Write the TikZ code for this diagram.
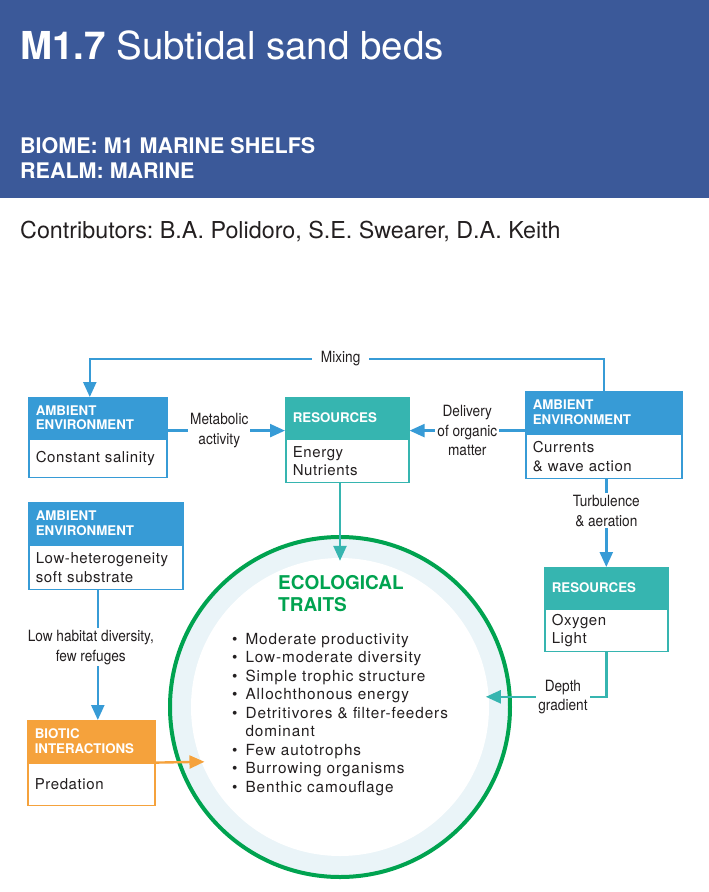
\documentclass[tikz,border=0pt]{standalone}
\usepackage{fontspec}
\setmainfont{TeX Gyre Heros}
\newfontfamily\condfont[FakeStretch=0.88]{TeX Gyre Heros}
\newfontfamily\bodyfont[LetterSpace=4]{TeX Gyre Heros}
\newfontfamily\traitfont[LetterSpace=6]{TeX Gyre Heros}
\usetikzlibrary{arrows.meta,positioning}

\definecolor{hdrblue}{RGB}{59,89,153}
\definecolor{aeblue}{RGB}{55,155,214}
\definecolor{resteal}{RGB}{54,181,176}
\definecolor{biorange}{RGB}{245,162,60}
\definecolor{ecogreen}{RGB}{0,163,80}
\definecolor{ringblue}{RGB}{234,244,248}
\definecolor{txt}{RGB}{35,31,32}

\tikzset{
  hdr/.style={fill=#1, draw=#1, line width=1.6pt, text=white,
    font=\fontsize{13.3}{14.5}\selectfont\bfseries, align=left,
    anchor=north west, inner xsep=7pt, inner ysep=0pt},
  bodybox/.style={fill=white, draw=#1, line width=1.6pt, text=txt,
    font=\bodyfont\fontsize{15}{18.5}\selectfont, align=left,
    anchor=north west, inner xsep=7pt, inner ysep=0pt},
  flow/.style={draw=#1, line width=2.4pt, -{Triangle[length=15pt,width=13pt]}},
  lbl/.style={fill=white, text=txt, font=\condfont\fontsize{15.5}{19.5}\selectfont,
    align=center, inner sep=2pt},
}

\begin{document}
\frenchspacing
\begin{tikzpicture}[x=1pt,y=-1pt]
  \useasboundingbox (0,0) rectangle (709,892);

  % ---------- header band ----------
  \fill[hdrblue] (0,0) rectangle (709,198);
  \node[anchor=base west, inner sep=0, text=white, font=\fontsize{38.5}{40}\selectfont]
    (title) at (20,59) {\textbf{M1.7} Subtidal sand beds};
  \node[anchor=base west, inner sep=0, text=white, font=\fontsize{21.5}{25}\selectfont\bfseries,
    align=left] (biome) at (20,178) {BIOME: M1 MARINE SHELFS\\REALM: MARINE};
  \node[anchor=base west, inner sep=0, text=txt, font=\fontsize{23.3}{25}\selectfont]
    (contrib) at (20,238) {Contributors: B.A. Polidoro, S.E. Swearer, D.A. Keith};

  % ---------- boxes: header strip + body ----------
  \node[hdr=aeblue, text width=124pt, minimum height=40pt] (ae1h) at (28,397) {AMBIENT\\ENVIRONMENT};
  \node[bodybox=aeblue, text width=124pt, minimum height=38pt] (ae1) at (ae1h.south west) {Constant salinity};

  \node[hdr=resteal, text width=109pt, minimum height=40pt] (res1h) at (285,397) {RESOURCES};
  \node[bodybox=resteal, text width=109pt, minimum height=43pt] (res1) at (res1h.south west) {Energy\\Nutrients};

  \node[hdr=aeblue, text width=142pt, minimum height=41pt] (ae2h) at (525,391) {AMBIENT\\ENVIRONMENT};
  \node[bodybox=aeblue, text width=142pt, minimum height=44pt] (ae2) at (ae2h.south west) {Currents\\\& wave action};

  \node[hdr=aeblue, text width=140pt, minimum height=41pt] (ae3h) at (28,502) {AMBIENT\\ENVIRONMENT};
  \node[bodybox=aeblue, text width=140pt, minimum height=44pt] (ae3) at (ae3h.south west) {Low-heterogeneity\\soft substrate};

  \node[hdr=biorange, text width=113pt, minimum height=41pt] (bih) at (27,720) {BIOTIC\\INTERACTIONS};
  \node[bodybox=biorange, text width=113pt, minimum height=42pt] (bi) at (bih.south west) {Predation};

  \node[hdr=resteal, text width=109pt, minimum height=40pt] (res2h) at (544,567) {RESOURCES};
  \node[bodybox=resteal, text width=109pt, minimum height=42pt] (res2) at (res2h.south west) {Oxygen\\Light};

  % ---------- ecological traits ring ----------
  \fill[ringblue] (340,707) circle (170pt);
  \fill[white] (340,707) circle (149pt);
  \draw[ecogreen, line width=4pt] (340,707) circle (170pt);
  \node[circle, minimum size=292pt, inner sep=0pt] (ring) at (340,707) {};

  \node[anchor=base west, inner sep=0, text=ecogreen, align=left,
    font=\fontsize{19}{22}\selectfont\bfseries] (ecot) at (278,611) {ECOLOGICAL\\TRAITS};
  \node[anchor=north west, inner sep=0, text=txt, font=\traitfont\fontsize{15.3}{18.5}\selectfont]
    (traits) at (232,631) {%
    \begin{tabular}{@{}l@{\hspace{8pt}}l@{}}
      \textbullet & Moderate productivity\\
      \textbullet & Low-moderate diversity\\
      \textbullet & Simple trophic structure\\
      \textbullet & Allochthonous energy\\
      \textbullet & Detritivores \& filter-feeders\\
                  & dominant\\
      \textbullet & Few autotrophs\\
      \textbullet & Burrowing organisms\\
      \textbullet & Benthic camouflage
    \end{tabular}};

  % ---------- connectors ----------
  \draw[flow=aeblue] (ae2h.north) -- ++(0,-32)
    -| node[lbl, pos=0.256, inner xsep=9pt] {Mixing} ([xshift=-8pt]ae1h.north);
  \draw[flow=aeblue] ([yshift=8pt]ae1h.south east)
    -- node[lbl, pos=0.44] {Metabolic\\activity} ([yshift=8pt]res1h.south west);
  \draw[flow=aeblue] ([yshift=3pt]ae2h.south west)
    -- node[lbl] {Delivery\\of organic\\matter} ([yshift=8pt]res1h.south east);
  \draw[flow=aeblue] (res2h.north |- ae2.south)
    -- node[lbl, pos=0.36] {Turbulence\\\& aeration} (res2h.north);
  \draw[flow=aeblue] ([xshift=-8pt]ae3.south)
    -- node[lbl, pos=0.44, xshift=-7pt] {Low habitat diversity,\\few refuges} ([xshift=-8pt]ae3.south |- bih.north);
  \draw[flow=resteal] (ring.north |- res1.south) -- (ring.north);
  \draw[flow=resteal] (res2.south) |- node[lbl, pos=0.68] {Depth\\gradient} (ring.4);
  \draw[flow=biorange] (bih.south east) -- (ring.202);
\end{tikzpicture}
\end{document}
